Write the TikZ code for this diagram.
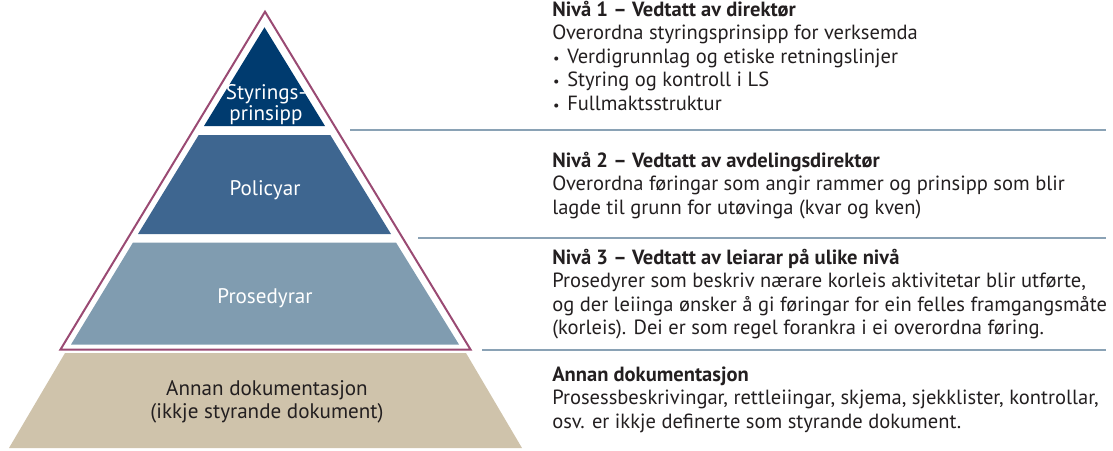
\documentclass[tikz,border=0pt]{standalone}
\usepackage{fontspec}
\setmainfont{PT Sans}
\definecolor{tiertop}{HTML}{003B6F}
\definecolor{tiermid}{HTML}{3E6690}
\definecolor{tierlow}{HTML}{809CB0}
\definecolor{tierbase}{HTML}{CFC3AB}
\definecolor{outline}{HTML}{9A4A73}
\definecolor{sepblue}{HTML}{8AA2B5}
\definecolor{inktext}{HTML}{231F20}
\newcommand{\bul}{\makebox[0.375cm][l]{\hspace{0.02cm}\scalebox{0.7}{\textbullet}}}
\tikzset{
  lvltext/.style={anchor=base west, align=left, inner sep=0pt, text=inktext,
    font=\fontsize{14.6}{16.6}\selectfont},
  tierlabel/.style={anchor=base, align=center, inner sep=0pt, text=white,
    font=\fontsize{15}{13.6}\selectfont},
  sepline/.style={draw=sepblue, line width=0.05cm}
}
\begin{document}
\begin{tikzpicture}[x=0.025cm, y=-0.025cm]
\useasboundingbox (0,0) rectangle (1113,450);
% pyramid
\fill[tierbase] (65,353) -- (466,353) -- (522,448) -- (9,448) -- cycle;
\draw[outline, line width=0.05cm, line join=miter] (265,11.7) -- (470.5,349.5) -- (60.5,349.5) -- cycle;
\fill[tiertop] (264.5,27.3) -- (325,126) -- (204,126) -- cycle;
\fill[tiermid] (198.7,135) -- (330.3,135) -- (391,234) -- (138,234) -- cycle;
\fill[tierlow] (133,242.5) -- (396,242.5) -- (459,344.5) -- (71,344.5) -- cycle;
\node[tierlabel] (styr) at (266,120.5) {Styrings-\\prinsipp};
\node[tierlabel] (pol) at (265,195.7) {Policyar};
\node[tierlabel] (pros) at (265,303.3) {Prosedyrar};
\node[tierlabel, text=inktext, font=\fontsize{15}{15.9}\selectfont] (annan) at (267,418.3) {Annan dokumentasjon\\(ikkje styrande dokument)};
% separators
\draw[sepline] (350,130) -- (1106,130);
\draw[sepline] (418,238) -- (1106,238);
\draw[sepline] (482,349.5) -- (1106,349.5);
% level texts
\node[lvltext] (niva1) at (552,110) {\textbf{Nivå 1 – Vedtatt av direktør}\\Overordna styringsprinsipp for verksemda\\\bul Verdigrunnlag og etiske retningslinjer\\\bul Styring og kontroll i LS\\\bul Fullmaktsstruktur};
\node[lvltext] (niva2) at (552,214) {\textbf{Nivå 2 – Vedtatt av avdelingsdirektør}\\Overordna føringar som angir rammer og prinsipp som blir\\lagde til grunn for utøvinga (kvar og kven)};
\node[lvltext] (niva3) at (552,334.5) {\textbf{Nivå 3 – Vedtatt av leiarar på ulike nivå}\\Prosedyrer som beskriv nærare korleis aktivitetar blir utførte,\\og der leiinga ønsker å gi føringar for ein felles framgangsmåte\\(korleis). Dei er som regel forankra i ei overordna føring.};
\node[lvltext] (annet) at (552,428.3) {\textbf{Annan dokumentasjon}\\Prosessbeskrivingar, rettleiingar, skjema, sjekklister, kontrollar,\\osv. er ikkje definerte som styrande dokument.};
\end{tikzpicture}
\end{document}
